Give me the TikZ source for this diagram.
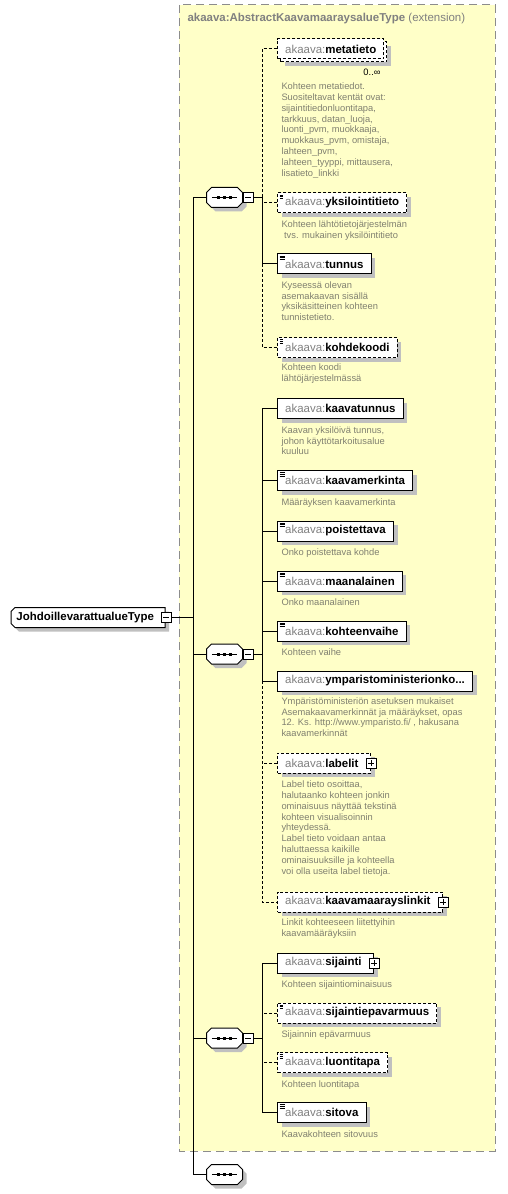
\documentclass[tikz,border=0pt]{standalone}
\usepackage{fontspec}
\setmainfont{Liberation Sans}
\usetikzlibrary{shadows}

\definecolor{extfill}{RGB}{255,255,200}
\definecolor{extgray}{RGB}{140,140,140}
\definecolor{shadowgray}{RGB}{192,192,192}
\definecolor{prefixgray}{RGB}{128,128,128}
\definecolor{annotgray}{RGB}{128,128,112}

\newcommand{\elfont}{\fontsize{8.6}{10}\selectfont}
\newcommand{\anfont}{\fontsize{7}{8.1}\selectfont}
\newcommand{\akaava}[1]{\textcolor{prefixgray}{akaava:}\textbf{#1}}
% octagon with the sequence mark, round an empty node
\newcommand{\seqmark}[1]{%
  \draw[fill=white, boxshadow] ([xshift=3.75pt]#1.north west) -- ([xshift=-3.75pt]#1.north east) -- ([yshift=-3.75pt]#1.north east) -- ([yshift=3.75pt]#1.south east) -- ([xshift=-3.75pt]#1.south east) -- ([xshift=3.75pt]#1.south west) -- ([yshift=3.75pt]#1.south west) -- ([yshift=-3.75pt]#1.north west) -- cycle;
  \draw ([xshift=-9.4pt]#1.center) -- ([xshift=9.4pt]#1.center);
  \foreach \dx in {-4.5,0,4.5} \fill ([xshift=\dx pt-1.125pt,yshift=-1.125pt]#1.center) rectangle ++(2.25pt,2.25pt);%
}

\begin{document}
\begin{tikzpicture}[x=0.75pt,y=-0.75pt,line width=0.75pt,
    extbox/.style={draw=extgray, fill=extfill, dash pattern=on 6pt off 3.75pt},
    boxshadow/.style={drop shadow={shadow xshift=3pt, shadow yshift=-3pt, fill=shadowgray, opacity=1}},
    optline/.style={dash pattern=on 2.25pt off 1.5pt},
    elemplain/.style={draw, fill=white, anchor=west, minimum height=15pt, inner xsep=5.75pt, inner ysep=0pt, font=\elfont},
    elembox/.style={elemplain, boxshadow},
    optbox/.style={elembox, optline},
    simple/.style={path picture={\foreach \dy in {1.5,2.75,4} \draw[black, line width=0.45pt] ([xshift=1.5pt,yshift=-\dy pt]path picture bounding box.north west) -- ++(3.75pt,0pt);}},
    withkids/.style={execute at end node={\hspace{3.5pt}}},
    plusbox/.style={draw, fill=white, minimum size=7.5pt, inner sep=0pt, path picture={\draw[black, line width=0.6pt] ([xshift=1.5pt]path picture bounding box.west) -- ([xshift=-1.5pt]path picture bounding box.east) ([yshift=-1.5pt]path picture bounding box.north) -- ([yshift=1.5pt]path picture bounding box.south);}},
    minusbox/.style={draw, fill=white, minimum size=7.5pt, inner sep=0pt, path picture={\draw[black, line width=0.6pt] ([xshift=1.5pt]path picture bounding box.west) -- ([xshift=-1.5pt]path picture bounding box.east);}},
    seqnode/.style={minimum width=26.25pt, minimum height=14.25pt, inner sep=0pt},
    rootbox/.style={anchor=west, minimum width=115.5pt, minimum height=15pt, inner xsep=3pt, inner ysep=0pt, font=\bfseries\elfont, execute at end node={\hspace{5pt}}},
    annot/.style={anchor=north west, align=left, inner sep=0pt, font=\anfont, text=annotgray, execute at begin node={\rule{0pt}{6pt}}}]
\useasboundingbox (0,0) rectangle (507,1194);

% extension frame
\draw[extbox] (179,5) rectangle (495,1151);
\node[anchor=base west, inner sep=0pt, font=\bfseries\elfont, text=prefixgray] (exttitle) at (187,22) {akaava:AbstractKaavamaaraysalueType \textmd{(extension)}};

% root and sequences
\draw[fill=white, boxshadow] (15,607.5) -- (165,607.5) -- (165,627.5) -- (15,627.5) -- (11,623.5) -- (11,611.5) -- cycle;
\node[rootbox] (root) at (11,617.5) {JohdoillevarattualueType};
\node[minusbox] (rootm) at (root.east) {};
\node[seqnode] (seqa) at (224.5,197.5) {};
\seqmark{seqa}
\node[minusbox, anchor=west] (seqam) at (seqa.east) {};
\node[seqnode] (seqb) at (224.5,654) {};
\seqmark{seqb}
\node[minusbox, anchor=west] (seqbm) at (seqb.east) {};
\node[seqnode] (seqc) at (224.5,1038) {};
\seqmark{seqc}
\node[minusbox, anchor=west] (seqcm) at (seqc.east) {};
\node[seqnode] (seqd) at (224.5,1174.5) {};
\seqmark{seqd}

% first sequence
\node[optbox] (metatietoback) at (280,52) {\phantom{\akaava{metatieto}}};
\node[elemplain, optline] (metatieto) at (277,49) {\akaava{metatieto}};
\node[anchor=east, inner sep=0pt, font=\anfont] (metaocc) at (381,72) {0..∞};
\node[annot] (metatietoa) at (281,82.4) {Kohteen metatiedot.\\Suositeltavat kentät ovat:\\sijaintitiedonluontitapa,\\tarkkuus, datan\_luoja,\\luonti\_pvm, muokkaaja,\\muokkaus\_pvm, omistaja,\\lahteen\_pvm,\\lahteen\_tyyppi, mittausera,\\lisatieto\_linkki};
\node[optbox, simple] (yksilointitieto) at (277,203) {\akaava{yksilointitieto}};
\node[annot] (yksilointitietoa) at (281,220.4) {Kohteen lähtötietojärjestelmän\\\ tvs. mukainen yksilöintitieto};
\node[elembox, simple] (tunnus) at (277,264) {\akaava{tunnus}};
\node[annot] (tunnusa) at (281,281.1) {Kyseessä olevan\\asemakaavan sisällä\\yksikäsitteinen kohteen\\tunnistetieto.};
\node[optbox, simple] (kohdekoodi) at (277,347.5) {\akaava{kohdekoodi}};
\node[annot] (kohdekoodia) at (281,363.7) {Kohteen koodi\\lähtöjärjestelmässä};

% second sequence
\node[elembox] (kaavatunnus) at (277,408.5) {\akaava{kaavatunnus}};
\node[annot] (kaavatunnusa) at (281,426.1) {Kaavan yksilöivä tunnus,\\johon käyttötarkoitusalue\\kuuluu};
\node[elembox, simple] (kaavamerkinta) at (277,480.5) {\akaava{kaavamerkinta}};
\node[annot] (kaavamerkintaa) at (281,497.1) {Määräyksen kaavamerkinta};
\node[elembox, simple] (poistettava) at (277,531) {\akaava{poistettava}};
\node[annot] (poistettavaa) at (281,547.1) {Onko poistettava kohde};
\node[elembox, simple] (maanalainen) at (277,581) {\akaava{maanalainen}};
\node[annot] (maanalainena) at (281,597.1) {Onko maanalainen};
\node[elembox, simple] (kohteenvaihe) at (277,631) {\akaava{kohteenvaihe}};
\node[annot] (kohteenvaihea) at (281,647.1) {Kohteen vaihe};
\node[elembox] (ymparisto) at (277,681) {\akaava{ymparistoministerionko...}};
\node[annot] (ymparistoa) at (281,697.1) {Ympäristöministeriön asetuksen mukaiset\\Asemakaavamerkinnät ja määräykset, opas\\12. Ks. http://www.ymparisto.fi/ , hakusana\\kaavamerkinnät};
\node[optbox, withkids] (labelit) at (277,763) {\akaava{labelit}};
\node[plusbox] (labelitp) at (labelit.east) {};
\node[annot] (labelita) at (281,780.4) {Label tieto osoittaa,\\halutaanko kohteen jonkin\\ominaisuus näyttää tekstinä\\kohteen visualisoinnin\\yhteydessä.\\Label tieto voidaan antaa\\haluttaessa kaikille\\ominaisuuksille ja kohteella\\voi olla useita label tietoja.};
\node[optbox, withkids] (linkit) at (277,902) {\akaava{kaavamaarayslinkit}};
\node[plusbox] (linkitp) at (linkit.east) {};
\node[annot] (linkita) at (281,918.4) {Linkit kohteeseen liitettyihin\\kaavamääräyksiin};

% third sequence
\node[elembox, withkids] (sijainti) at (277,963) {\akaava{sijainti}};
\node[plusbox] (sijaintip) at (sijainti.east) {};
\node[annot] (sijaintia) at (281,978.7) {Kohteen sijaintiominaisuus};
\node[optbox, simple] (epavarmuus) at (277,1013) {\akaava{sijaintiepavarmuus}};
\node[annot] (epavarmuusa) at (281,1028.7) {Sijainnin epävarmuus};
\node[optbox, simple] (luontitapa) at (277,1062.5) {\akaava{luontitapa}};
\node[annot] (luontitapaa) at (281,1078.7) {Kohteen luontitapa};
\node[elembox, simple] (sitova) at (277,1112.5) {\akaava{sitova}};
\node[annot] (sitovaa) at (281,1128.7) {Kaavakohteen sitovuus};

% connectors
\coordinate (trunk) at (193,617.5);
\draw (rootm.east) -- (trunk);
\draw (trunk) |- (seqa.west);
\draw (trunk) |- (seqd.west);
\draw (seqb.west) -- (seqb.west -| trunk);
\draw (seqc.west) -- (seqc.west -| trunk);

\coordinate (bra) at (262,197.5);
\draw (seqam.east) -- (bra);
\draw[optline] (bra) |- (metatieto.west);
\draw (bra) |- (tunnus.west);
\draw[optline] (yksilointitieto.west) -- (yksilointitieto.west -| bra);
\draw[optline] (tunnus.west -| bra) |- (kohdekoodi.west);

\coordinate (brb) at (262,654);
\draw (seqbm.east) -- (brb);
\draw (brb) |- (kaavatunnus.west);
\draw (brb) |- (ymparisto.west);
\foreach \n in {kaavamerkinta,poistettava,maanalainen,kohteenvaihe}
  \draw (\n.west) -- (\n.west -| brb);
\draw[optline] (ymparisto.west -| brb) |- (linkit.west);
\draw[optline] (labelit.west) -- (labelit.west -| brb);

\coordinate (brc) at (262,1038);
\draw (seqcm.east) -- (brc);
\draw (brc) |- (sijainti.west);
\draw (brc) |- (sitova.west);
\draw[optline] (epavarmuus.west) -- (epavarmuus.west -| brc);
\draw[optline] (luontitapa.west) -- (luontitapa.west -| brc);
\end{tikzpicture}
\end{document}
